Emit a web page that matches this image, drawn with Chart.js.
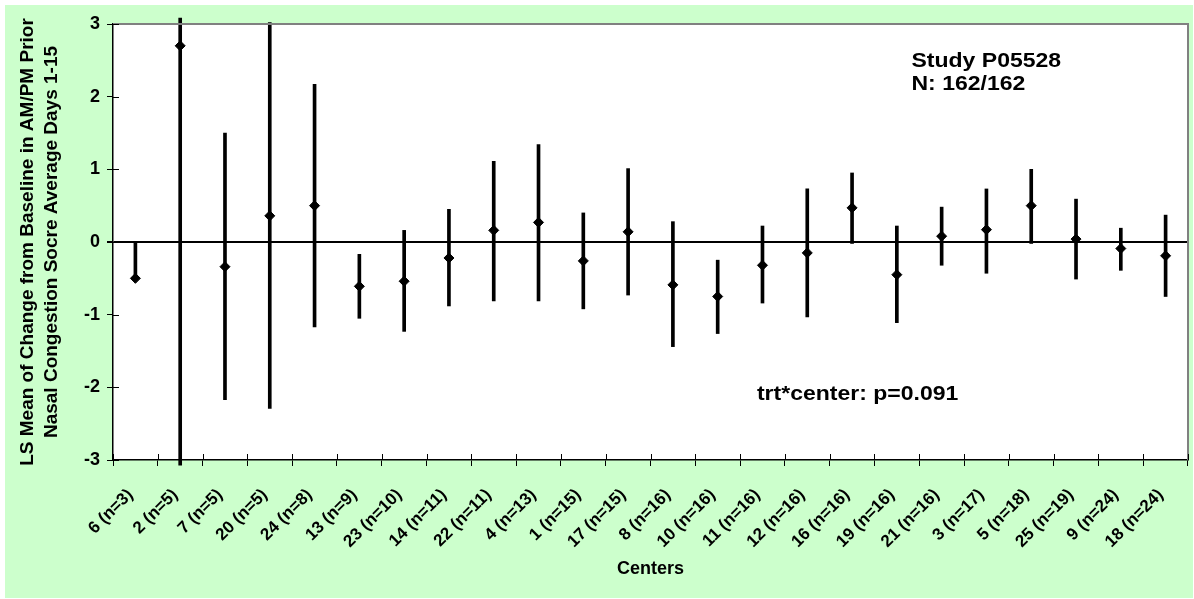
<!DOCTYPE html>
<html><head><meta charset="utf-8">
<script src="https://cdn.jsdelivr.net/npm/chart.js@4.4.1/dist/chart.umd.min.js"></script>
<style>html,body{margin:0;padding:0;background:#fff;} #wrap{width:1194px;height:599px;position:relative;}</style>
</head><body><div id="wrap"><canvas id="c" width="1194" height="599"></canvas></div>
<script>
const centers = ["6 (n=3)", "2 (n=5)", "7 (n=5)", "20 (n=5)", "24 (n=8)", "13 (n=9)", "23 (n=10)", "14 (n=11)", "22 (n=11)", "4 (n=13)", "1 (n=15)", "17 (n=15)", "8 (n=16)", "10 (n=16)", "11 (n=16)", "12 (n=16)", "16 (n=16)", "19 (n=16)", "21 (n=16)", "3 (n=17)", "5 (n=18)", "25 (n=19)", "9 (n=24)", "18 (n=24)"];
const lsMean  = [-0.50, 2.70, -0.34, 0.36, 0.50, -0.61, -0.54, -0.22, 0.16, 0.27, -0.26, 0.14, -0.59, -0.75, -0.32, -0.15, 0.47, -0.45, 0.08, 0.17, 0.50, 0.04, -0.09, -0.19];
const ciUpper = [0.00, 3.08, 1.50, 3.02, 2.17, -0.17, 0.16, 0.45, 1.11, 1.34, 0.40, 1.01, 0.28, -0.25, 0.22, 0.73, 0.95, 0.22, 0.48, 0.73, 1.00, 0.59, 0.19, 0.37];
const ciLower = [-0.50, -3.07, -2.17, -2.29, -1.17, -1.05, -1.23, -0.88, -0.81, -0.81, -0.92, -0.73, -1.44, -1.26, -0.84, -1.03, -0.02, -1.11, -0.32, -0.43, -0.02, -0.51, -0.39, -0.75];
const yTicks = [-3, -2, -1, 0, 1, 2, 3];
const yTitle = ["LS Mean of Change from Baseline in AM/PM Prior", "Nasal Congestion Socre Average Days 1-15"];
const xTitle = "Centers";
const studyNotes = ["Study P05528", "N: 162/162"];
const pNote = "trt*center: p=0.091";

const errorRanges = centers.map((c, i) => [ciLower[i], ciUpper[i]]);
const FONT = "'Liberation Sans', Arial, sans-serif";

const bgPlugin = {
  id: 'bg',
  beforeDraw(chart) {
    const ctx = chart.ctx, a = chart.chartArea;
    ctx.save();
    ctx.fillStyle = '#ffffff';
    ctx.fillRect(0, 0, chart.width, chart.height);
    ctx.fillStyle = '#CCFFCC';
    ctx.fillRect(5, 5, chart.width - 6, chart.height - 6);
    ctx.fillStyle = '#ffffff';
    ctx.fillRect(a.left, a.top, a.right - a.left, a.bottom - a.top);
    ctx.restore();
  },
  afterDraw(chart) {
    const ctx = chart.ctx, a = chart.chartArea;
    const xs = chart.scales.x, ys = chart.scales.y;
    ctx.save();
    ctx.strokeStyle = '#808080';
    ctx.lineWidth = 2;
    ctx.beginPath();
    ctx.moveTo(a.left, a.top);
    ctx.lineTo(a.right, a.top);
    ctx.lineTo(a.right, a.bottom);
    ctx.stroke();
    ctx.strokeStyle = '#000';
    ctx.lineWidth = 1;
    ctx.beginPath();
    ys.ticks.forEach((t, i) => {
      const py = Math.round(ys.getPixelForTick(i)) + 0.5;
      ctx.moveTo(a.left, py); ctx.lineTo(a.left + 6, py);
    });
    for (let i = 0; i <= centers.length; i++) {
      const px = Math.round(xs.getPixelForValue(i - 0.5)) + 0.5;
      ctx.moveTo(px, a.bottom); ctx.lineTo(px, a.bottom - 6);
    }
    ctx.stroke();
    ctx.fillStyle = '#000';
    ctx.font = "bold 20px " + FONT;
    ctx.textBaseline = 'alphabetic';
    ctx.textAlign = 'left';
    const drawStretched = (txt, x, y) => {
      ctx.save();
      ctx.translate(x, y);
      ctx.scale(1.15, 1);
      ctx.fillText(txt, 0, 0);
      ctx.restore();
    };
    const w = a.right - a.left, h = a.bottom - a.top;
    drawStretched(studyNotes[0], a.left + w * 0.7428, a.top + h * 0.0986);
    drawStretched(studyNotes[1], a.left + w * 0.7428, a.top + h * 0.1514);
    drawStretched(pNote, a.left + w * 0.599, a.top + h * 0.862);
    ctx.restore();
  }
};

new Chart(document.getElementById('c'), {
  data: {
    labels: centers,
    datasets: [
      {
        type: 'line',
        label: 'LS Mean',
        data: lsMean,
        showLine: false,
        pointStyle: 'rectRot',
        pointRadius: 5,
        pointBorderWidth: 1,
        pointBackgroundColor: '#000',
        pointBorderColor: '#000',
        order: 0
      },
      {
        type: 'bar',
        label: 'CI',
        data: errorRanges,
        backgroundColor: '#000',
        borderWidth: 0,
        barThickness: 3,
        clip: {left: 0, right: 0, top: 8, bottom: 8},
        order: 1
      }
    ]
  },
  options: {
    responsive: false,
    animation: false,
    devicePixelRatio: 1,
    layout: { padding: { left: 0, top: 24, right: 4, bottom: 0 } },
    plugins: { legend: { display: false }, tooltip: { enabled: false } },
    scales: {
      x: {
        type: 'category',
        offset: true,
        grid: { offset: true, drawOnChartArea: false, color: '#000', tickColor: '#000', tickLength: 6, lineWidth: 1 },
        border: { display: true, color: '#000', width: 1.5 },
        ticks: { minRotation: 45, maxRotation: 45, autoSkip: false, color: '#000', padding: 19, labelOffset: -5,
                 font: { family: FONT, size: 17, weight: 'bold' } },
        title: { display: true, text: xTitle, color: '#000', padding: { top: 0, bottom: 19 },
                 font: { family: FONT, size: 18, weight: 'bold' } },
        afterFit(scale) { scale.height = 139; scale.paddingLeft = 0; scale.paddingRight = 0; }
      },
      y: {
        type: 'linear',
        min: -3, max: 3,
        afterBuildTicks(scale) { scale.ticks = yTicks.map(v => ({ value: v })); },
        grid: {
          color: ctx => (ctx.tick && ctx.tick.value === 0) ? '#000' : 'rgba(0,0,0,0)',
          lineWidth: ctx => (ctx.tick && ctx.tick.value === 0) ? 2 : 1,
          tickColor: '#000', tickLength: 6, drawTicks: true
        },
        border: { display: true, color: '#000', width: 1.5 },
        ticks: { color: '#000', padding: 7, font: { family: FONT, size: 18, weight: 'bold' } },
        title: { display: true, text: yTitle, color: '#000', padding: { top: 16, bottom: 0 },
                 font: { family: FONT, size: 19, weight: 'bold', lineHeight: 1.26 } },
        afterFit(scale) { scale.width = 113; scale.paddingTop = 0; scale.paddingBottom = 0; }
      }
    }
  },
  plugins: [bgPlugin]
});
</script>
</body></html>
